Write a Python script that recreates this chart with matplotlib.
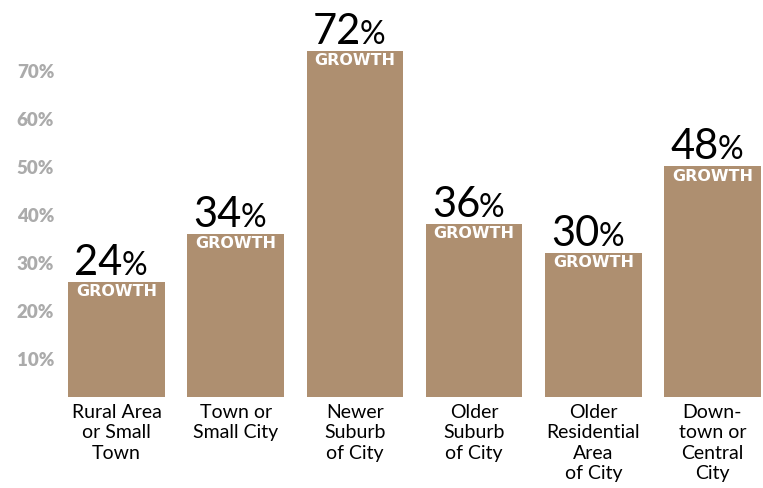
import matplotlib.pyplot as plt
import matplotlib.transforms as mtransforms

plt.rcParams["font.family"] = ["Lato", "DejaVu Sans"]

places = [
    "Rural Area\nor Small\nTown",
    "Town or\nSmall City",
    "Newer\nSuburb\nof City",
    "Older\nSuburb\nof City",
    "Older\nResidential\nArea\nof City",
    "Down-\ntown or\nCentral\nCity",
]
growth = [24, 34, 72, 36, 30, 48]
ytick_vals = [10, 20, 30, 40, 50, 60, 70]
ytick_labels = ["10%", "20%", "30%", "40%", "50%", "60%", "70%"]

BAR = "#ae8f70"

fig = plt.figure(figsize=(7.63, 4.89), dpi=100)
ax = fig.add_axes([57 / 763, 91 / 489, 706 / 763, 398 / 489])

xs = list(range(len(places)))
ax.bar(xs, growth, width=0.81, color=BAR, zorder=2)

ax.set_xlim(-0.5, 5.424)
ax.set_ylim(0, 82.8)

for side in ax.spines.values():
    side.set_visible(False)

ax.set_yticks(ytick_vals)
ax.set_yticklabels(ytick_labels, fontsize=13.5, fontweight="heavy", color="#ababab")
ax.tick_params(axis="y", length=0, pad=2)
shift = mtransforms.ScaledTranslation(0, -9 / 100, fig.dpi_scale_trans)
for lbl in ax.get_yticklabels():
    lbl.set_transform(lbl.get_transform() + shift)

ax.set_xticks(xs)
ax.set_xticklabels(places, fontsize=14, color="black", linespacing=1.25)
ax.tick_params(axis="x", length=0, pad=4)

# value label: big number + smaller percent sign, then "GROWTH" inside the bar top
for x, v in zip(xs, growth):
    ax.annotate(str(v), (x, v), xytext=(6, 8), textcoords="offset pixels",
                ha="right", va="baseline", fontsize=30, color="black")
    ax.annotate("%", (x, v), xytext=(5, 8), textcoords="offset pixels",
                ha="left", va="baseline", fontsize=23, color="black")
    ax.annotate("GROWTH", (x, v), xytext=(0, -9), textcoords="offset pixels",
                ha="center", va="center", fontsize=11.5, fontweight="heavy",
                color="white", family=["DejaVu Sans"])

fig.savefig("out.png", dpi=100)
